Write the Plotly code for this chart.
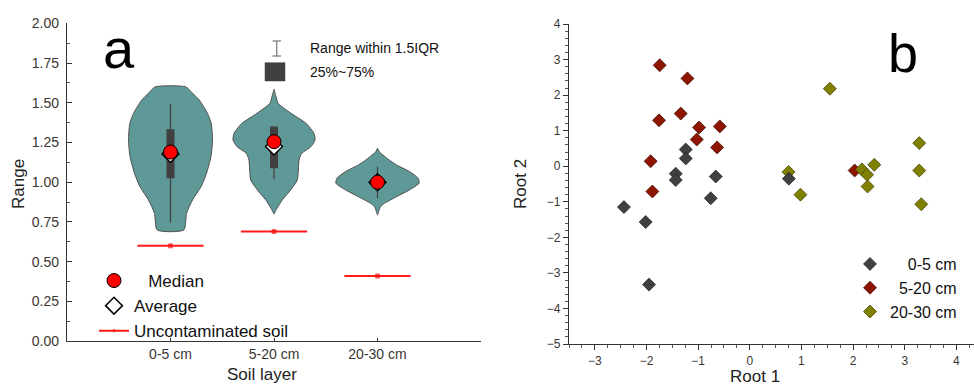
import plotly.graph_objects as go

# ---------------- panel a: range by soil layer ----------------
layers = ["0-5 cm", "5-20 cm", "20-30 cm"]
medians = [1.19, 1.255, 1.00]
means = [1.178, 1.225, 1.00]
q1 = [1.025, 1.088, 0.975]
q3 = [1.333, 1.350, 1.025]
whisker_lo = [0.746, 1.019, 0.899]
whisker_hi = [1.493, 1.350, 1.098]
uncontaminated = [0.60, 0.69, 0.41]

# density profiles of the three violins: levels and half widths (category units)
v1_levels = [0.70, 0.805, 0.889, 0.972, 1.057, 1.161, 1.266, 1.371, 1.434, 1.518, 1.56, 1.60]
v1_halfw = [0.129, 0.155, 0.213, 0.295, 0.348, 0.391, 0.406, 0.393, 0.357, 0.277, 0.213, 0.148]
v2_levels = [0.80, 0.836, 0.889, 0.952, 1.014, 1.077, 1.140, 1.182, 1.224, 1.266, 1.308,
             1.371, 1.434, 1.497, 1.54, 1.585]
v2_halfw = [0.0, 0.029, 0.080, 0.161, 0.225, 0.235, 0.242, 0.268, 0.357, 0.396, 0.386,
            0.309, 0.164, 0.039, 0.019, 0.0]
v3_levels = [0.794, 0.846, 0.868, 0.909, 0.952, 0.994, 1.025, 1.067, 1.109, 1.140, 1.172, 1.19, 1.214]
v3_halfw = [0.0, 0.029, 0.068, 0.184, 0.309, 0.402, 0.392, 0.309, 0.184, 0.113, 0.051, 0.019, 0.0]

# ---------------- panel b: discriminant scores ----------------
g_x = [-1.240, -1.240, -1.434, -1.434, -0.659, -0.756, -2.436, -2.016, -1.951, 0.756]
g_y = [0.47, 0.22, -0.21, -0.39, -0.29, -0.90, -1.15, -1.57, -3.33, -0.35]
r_x = [-1.744, -1.207, -1.337, -1.757, -0.982, -0.581, -1.027, -0.633, -1.919, -1.886, 2.03]
r_y = [2.84, 2.47, 1.48, 1.29, 1.09, 1.12, 0.75, 0.53, 0.14, -0.71, -0.12]
o_x = [1.55, 0.75, 0.98, 2.17, 2.27, 2.41, 2.28, 3.28, 3.28, 3.32]
o_y = [2.18, -0.16, -0.80, -0.09, -0.24, 0.04, -0.57, 0.65, -0.12, -1.07]

FONT = "Liberation Sans, Arial, sans-serif"
W, H = 974, 385
VIOLIN = "#5f9997"
DARK = "#404040"

fig = go.Figure()

profiles = [(v1_levels, v1_halfw), (v2_levels, v2_halfw), (v3_levels, v3_halfw)]
for i, (lv, hw) in enumerate(profiles):
    xs = [i - w for w in hw] + [i + w for w in reversed(hw)] + [i - hw[0]]
    ys = list(lv) + list(reversed(lv)) + [lv[0]]
    fig.add_trace(go.Scatter(
        x=xs, y=ys, mode="lines", fill="toself", fillcolor=VIOLIN,
        line=dict(color="#505050", width=1, shape="spline", smoothing=0.6),
        showlegend=False, hoverinfo="skip", xaxis="x", yaxis="y"))

for i in range(len(layers)):
    fig.add_trace(go.Scatter(
        x=[i, i], y=[whisker_lo[i], whisker_hi[i]], mode="lines",
        line=dict(color=DARK, width=1.2), showlegend=False, hoverinfo="skip",
        xaxis="x", yaxis="y"))
    fig.add_trace(go.Scatter(
        x=[i, i], y=[q1[i], q3[i]], mode="lines",
        line=dict(color=DARK, width=8), showlegend=False, hoverinfo="skip",
        xaxis="x", yaxis="y"))

# uncontaminated-soil reference levels
HALF = 0.32
ux, uy, us = [], [], []
for i, u in enumerate(uncontaminated):
    ux += [i - HALF, i, i + HALF, None]
    uy += [u, u, u, None]
    us += [0, 4, 0, 0]
fig.add_trace(go.Scatter(
    x=ux, y=uy, mode="lines+markers", name="Uncontaminated soil",
    line=dict(color="#ff1a1a", width=2),
    marker=dict(size=us, color="#e01010", symbol="square"),
    legend="legend", legendrank=3, xaxis="x", yaxis="y"))

NB = "\u00a0"
fig.add_trace(go.Scatter(
    x=list(range(len(layers))), y=means, mode="markers", name="Average",
    marker=dict(symbol="diamond", size=13, color="white", line=dict(color="black", width=1.5)),
    legend="legend", legendrank=2, xaxis="x", yaxis="y"))
fig.add_trace(go.Scatter(
    x=list(range(len(layers))), y=medians, mode="markers", name=NB * 3 + "Median",
    marker=dict(symbol="circle", size=14, color="#ff0000", line=dict(color="black", width=1)),
    legend="legend", legendrank=1, xaxis="x", yaxis="y"))

# panel b scatter (drawing order: 5-20, 20-30, 0-5)
fig.add_trace(go.Scatter(
    x=r_x, y=r_y, mode="markers", name=NB * 2 + "5-20 cm",
    marker=dict(symbol="diamond", size=10, color="#8e1500", line=dict(color="#3a0a00", width=0.7)),
    legend="legend2", legendrank=2, xaxis="x2", yaxis="y2"))
fig.add_trace(go.Scatter(
    x=o_x, y=o_y, mode="markers", name="20-30 cm",
    marker=dict(symbol="diamond", size=10, color="#808000", line=dict(color="#3a3a00", width=0.7)),
    legend="legend2", legendrank=3, xaxis="x2", yaxis="y2"))
fig.add_trace(go.Scatter(
    x=g_x, y=g_y, mode="markers", name=NB * 4 + "0-5 cm",
    marker=dict(symbol="diamond", size=10, color="#404040", line=dict(color="#202020", width=0.7)),
    legend="legend2", legendrank=1, xaxis="x2", yaxis="y2"))


def px(x):
    return x / W


def py(y):
    return 1 - y / H


axis_line = dict(showline=True, linecolor="#333333", linewidth=1.3, zeroline=False, showgrid=False)
tickfont_a = dict(family=FONT, size=14, color="#3d3530")
tickfont_b = dict(family=FONT, size=12, color="#3d3530")

fig.update_layout(
    width=W, height=H, margin=dict(l=0, r=0, t=0, b=0, autoexpand=False),
    paper_bgcolor="white", plot_bgcolor="white",
    font=dict(family=FONT, color="#111111"),
    xaxis=dict(domain=[px(67), px(481)], range=[-1, 3], anchor="y",
               tickvals=[0, 1, 2, 3], ticktext=layers + [""],
               ticks="inside", ticklen=3, tickcolor="#333333", tickfont=tickfont_a, **axis_line),
    yaxis=dict(domain=[py(341.2), py(23.3)], range=[0, 2], anchor="x",
               tickvals=[0, 0.25, 0.5, 0.75, 1.0, 1.25, 1.5, 1.75, 2.0],
               ticktext=["0.00", "0.25", "0.50", "0.75", "1.00", "1.25", "1.50", "1.75", "2.00"],
               ticks="inside", ticklen=5, tickcolor="#333333", tickfont=tickfont_a,
               ticklabelstandoff=4,
               minor=dict(dtick=0.125, ticks="inside", ticklen=3, tickcolor="#555555"),
               **axis_line),
    xaxis2=dict(domain=[px(569), 1.0], range=[-3.5, 4.34], anchor="y2", dtick=1,
                ticks="outside", ticklen=5, tickcolor="#333333", tickfont=tickfont_b,
                minor=dict(dtick=0.25, ticks="outside", ticklen=3, tickcolor="#555555"),
                **axis_line),
    xaxis3=dict(domain=[px(569), 1.0], range=[-3.5, 4.34], anchor="y2", overlaying="x2",
                side="top", dtick=1, showticklabels=False,
                ticks="inside", ticklen=5, tickcolor="#333333",
                minor=dict(dtick=0.25, ticks="inside", ticklen=3, tickcolor="#555555"),
                **axis_line),
    yaxis2=dict(domain=[py(344), py(24)], range=[-5, 4], anchor="x2", dtick=1,
                ticks="outside", ticklen=5, tickcolor="#333333", tickfont=tickfont_b,
                minor=dict(dtick=0.2, ticks="outside", ticklen=3, tickcolor="#555555"),
                **axis_line),
    legend=dict(x=px(94), y=py(263), xanchor="left", yanchor="top",
                bgcolor="rgba(0,0,0,0)", font=dict(family=FONT, size=17, color="#111111"),
                tracegroupgap=0, itemclick=False),
    legend2=dict(x=px(850), y=py(247), xanchor="left", yanchor="top",
                 bgcolor="rgba(0,0,0,0)", font=dict(family=FONT, size=16, color="#111111"),
                 itemclick=False),
)

annotations = [
    dict(text="a", x=px(119), y=py(82), xanchor="center", yanchor="bottom",
         font=dict(family=FONT, size=56, color="black")),
    dict(text="b", x=px(903), y=py(85), xanchor="center", yanchor="bottom",
         font=dict(family=FONT, size=54, color="black")),
    dict(text="Range", x=px(19), y=py(184), textangle=-90, xanchor="center", yanchor="middle",
         font=dict(family=FONT, size=17, color="#222222")),
    dict(text="Soil layer", x=px(262), y=py(374), xanchor="center", yanchor="middle",
         font=dict(family=FONT, size=17, color="#222222")),
    dict(text="Root 2", x=px(521), y=py(184), textangle=-90, xanchor="center", yanchor="middle",
         font=dict(family=FONT, size=17, color="#222222")),
    dict(text="Root 1", x=px(755), y=py(376), xanchor="center", yanchor="middle",
         font=dict(family=FONT, size=17, color="#222222")),
    dict(text="Range within 1.5IQR", x=px(308), y=py(48), xanchor="left", yanchor="middle",
         font=dict(family=FONT, size=14, color="#111111")),
    dict(text="25%~75%", x=px(308), y=py(72), xanchor="left", yanchor="middle",
         font=dict(family=FONT, size=14, color="#111111")),
]
for a in annotations:
    a.update(xref="paper", yref="paper", showarrow=False)
fig.update_layout(annotations=annotations)

# key for the box elements
key = dict(xref="paper", yref="paper")
shapes = [
    dict(type="line", x0=px(276.7), x1=px(276.7), y0=py(41), y1=py(56),
         line=dict(color="#808080", width=1.3), **key),
    dict(type="line", x0=px(272.5), x1=px(281), y0=py(41), y1=py(41),
         line=dict(color="#808080", width=1.3), **key),
    dict(type="line", x0=px(272.5), x1=px(281), y0=py(56), y1=py(56),
         line=dict(color="#808080", width=1.3), **key),
    dict(type="rect", x0=px(265), x1=px(285), y0=py(81), y1=py(62.7),
         fillcolor=DARK, line=dict(color=DARK, width=0.5), **key),
]
fig.update_layout(shapes=shapes)

fig.write_html("out.html")
